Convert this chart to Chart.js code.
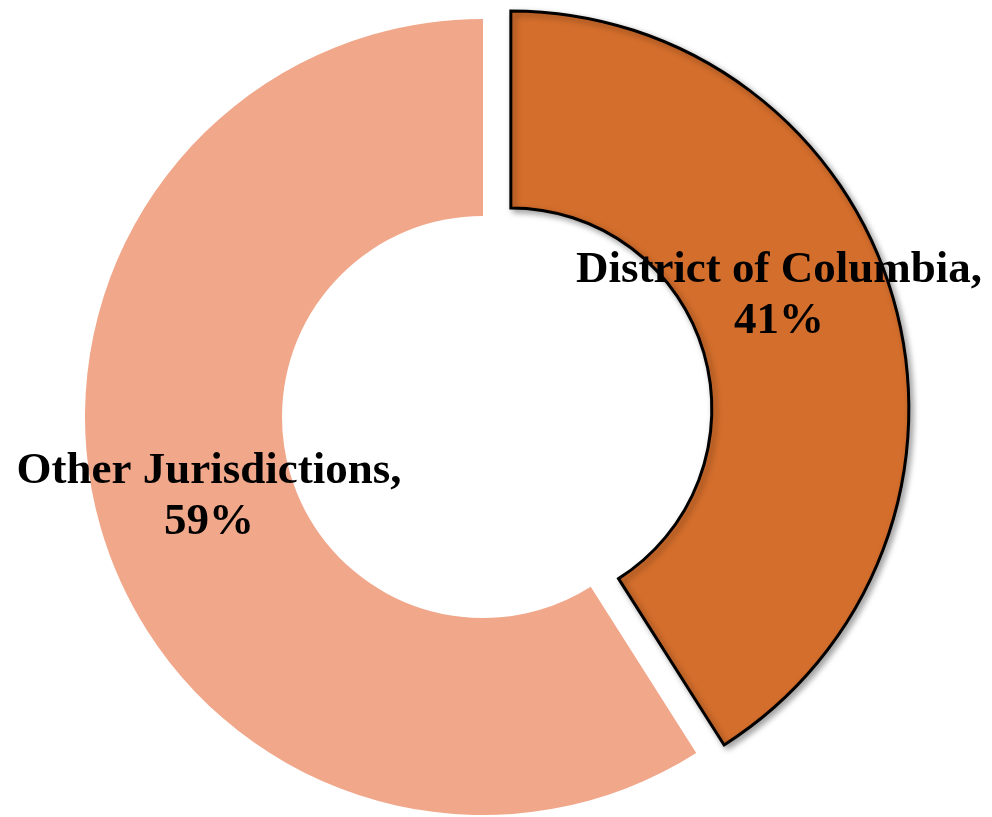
<!DOCTYPE html>
<html>
<head>
<meta charset="utf-8">
<title>Share by jurisdiction</title>
<script src="https://cdn.jsdelivr.net/npm/chart.js@4.4.1/dist/chart.umd.min.js"></script>
<style>
  html, body { margin: 0; padding: 0; background: #fff; }
  #wrap { width: 992px; height: 817px; position: relative; }
</style>
</head>
<body>
<div id="wrap"><canvas id="grafico"></canvas></div>
<script>
// -----------------------------
// Data
// -----------------------------
const categorias = ['District of Columbia', 'Other Jurisdictions'];
const porcentajes = [41, 59];
const colores = ['#D46E2C', '#F0A78A'];
const bordes = [3, 0];

// -----------------------------
// Plugin: pulls a slice out of the ring and adds a soft shadow
// -----------------------------
const separarPorcion = {
  id: 'separarPorcion',
  beforeDatasetDraw(chart, args, opts) {
    const ctx = chart.ctx;
    args.meta.data.forEach((arc, i) => {
      const d = (opts.distancia || [])[i] || 0;
      const mitad = (arc.startAngle + arc.endAngle) / 2;
      ctx.save();
      ctx.translate(Math.cos(mitad) * d, Math.sin(mitad) * d);
      if (d) {
        ctx.shadowColor = 'rgba(0,0,0,0.35)';
        ctx.shadowBlur = 6;
        ctx.shadowOffsetX = 3;
        ctx.shadowOffsetY = 3;
      }
      arc.draw(ctx);
      ctx.restore();
    });
    return false;
  }
};

// -----------------------------
// Plugin: two-line labels "name," / "pct%"
// -----------------------------
const etiquetas = {
  id: 'etiquetas',
  afterDatasetsDraw(chart, args, opts) {
    const ctx = chart.ctx;
    ctx.save();
    ctx.font = 'bold 45px "Liberation Serif", "Times New Roman", serif';
    ctx.fillStyle = '#000';
    ctx.textAlign = 'center';
    ctx.textBaseline = 'alphabetic';
    opts.posiciones.forEach((p, i) => {
      ctx.fillText(categorias[i] + ',', p.x, p.y);
      ctx.fillText(porcentajes[i] + '%', p.x, p.y + 51);
    });
    ctx.restore();
  }
};

new Chart(document.getElementById('grafico'), {
  type: 'doughnut',
  data: {
    labels: categorias,
    datasets: [{
      data: porcentajes,
      backgroundColor: colores,
      borderColor: '#000',
      borderWidth: bordes,
      borderJoinStyle: 'miter',
      radius: 398,
      cutout: '50.5%'
    }]
  },
  options: {
    responsive: true,
    maintainAspectRatio: false,
    animation: false,
    layout: { padding: { left: 0, right: 26, top: 17, bottom: 0 } },
    plugins: {
      legend: { display: false },
      tooltip: { enabled: false },
      separarPorcion: { distancia: [29, 0] },
      etiquetas: { posiciones: [{ x: 779, y: 282 }, { x: 209, y: 483 }] }
    }
  },
  plugins: [separarPorcion, etiquetas]
});
</script>
</body>
</html>
